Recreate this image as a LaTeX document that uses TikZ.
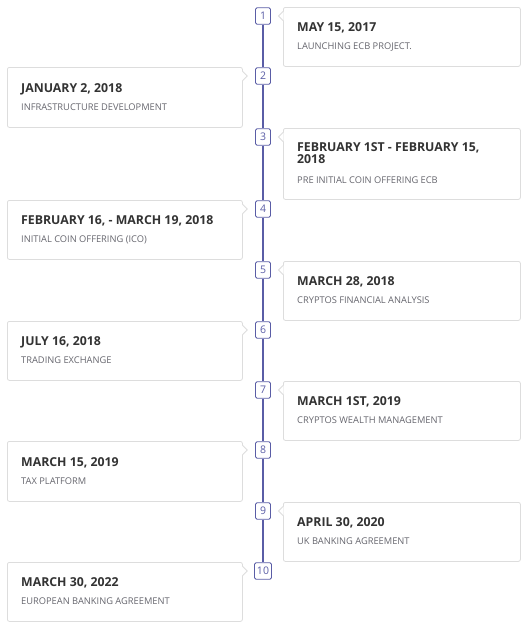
\documentclass[tikz,border=0pt]{standalone}
\usepackage{fontspec}
\setmainfont{Open Sans}
\definecolor{tlblue}{HTML}{5A5DA6}
\definecolor{cardgray}{HTML}{DDDDDD}
\definecolor{titlecol}{HTML}{333333}
\definecolor{subcol}{HTML}{66666E}
\tikzset{
  card/.style={draw=cardgray, fill=white, rounded corners=2pt, line width=0.8pt, inner sep=0pt, anchor=north west, minimum height=#1},
  rcard/.style={card=#1, minimum width=237pt},
  lcard/.style={card=#1, minimum width=235pt},
  numbox/.style={draw=tlblue, fill=white, line width=0.9pt, rounded corners=1.5pt, minimum width=15pt, minimum height=16.5pt, inner xsep=2.5pt, inner ysep=0pt, font=\fontsize{10.5}{11}\selectfont, text=tlblue},
  ttl/.style={anchor=base west, inner sep=0pt, font=\fontsize{12.3}{12}\selectfont\bfseries, text=titlecol, align=left},
  sub/.style={anchor=base west, inner sep=0pt, font=\fontsize{9.3}{10}\selectfont, text=subcol},
  tline/.style={draw=tlblue, line width=1.1pt}
}
\usetikzlibrary{calc}
\newcommand{\rnotch}[1]{% notch on left edge of right card
  \fill[white] ($(#1.north west)+(0.7,4.5)$) -- ++(-5.2,4.5) -- ++(5.2,4.5) -- cycle;
  \draw[cardgray, line width=0.8pt] ($(#1.north west)+(0,4.5)$) -- ++(-4.5,4.5) -- ++(4.5,4.5);}
\newcommand{\lnotch}[1]{% notch on right edge of left card
  \fill[white] ($(#1.north east)+(-0.7,4.5)$) -- ++(5.2,4.5) -- ++(-5.2,4.5) -- cycle;
  \draw[cardgray, line width=0.8pt] ($(#1.north east)+(0,4.5)$) -- ++(4.5,4.5) -- ++(-4.5,4.5);}
\begin{document}
\begin{tikzpicture}[x=1pt,y=-1pt]
\useasboundingbox (0,0) rectangle (528,632);
% cards
\node[rcard=59pt] (c1) at (283,7) {};
\node[lcard=60pt] (c2) at (7,67) {};
\node[rcard=71pt] (c3) at (283,128) {};
\node[lcard=59pt] (c4) at (7,200) {};
\node[rcard=59pt] (c5) at (283,261) {};
\node[lcard=59pt] (c6) at (7,321) {};
\node[rcard=59pt] (c7) at (283,381) {};
\node[lcard=60pt] (c8) at (7,441) {};
\node[rcard=59pt] (c9) at (283,502) {};
\node[lcard=59pt] (c10) at (7,562) {};
\rnotch{c1}\lnotch{c2}\rnotch{c3}\lnotch{c4}\rnotch{c5}
\lnotch{c6}\rnotch{c7}\lnotch{c8}\rnotch{c9}\lnotch{c10}
% texts
\node[ttl] (t1) at (297,31) {MAY 15, 2017};
\node[sub] (s1) at (297,49.5) {LAUNCHING ECB PROJECT.};
\node[ttl] (t2) at (21,92) {JANUARY 2, 2018};
\node[sub] (s2) at (21,110.5) {INFRASTRUCTURE DEVELOPMENT};
\node[ttl] (t3) at (297,151.7) {FEBRUARY 1ST - FEBRUARY 15,};
\node[ttl] (t3b) at (297,163.5) {2018};
\node[sub] (s3) at (297,183.3) {PRE INITIAL COIN OFFERING ECB};
\node[ttl] (t4) at (21,224) {FEBRUARY 16, - MARCH 19, 2018};
\node[sub] (s4) at (21,242.5) {INITIAL COIN OFFERING (ICO)};
\node[ttl] (t5) at (297,285) {MARCH 28, 2018};
\node[sub] (s5) at (297,303.5) {CRYPTOS FINANCIAL ANALYSIS};
\node[ttl] (t6) at (21,345) {JULY 16, 2018};
\node[sub] (s6) at (21,363.5) {TRADING EXCHANGE};
\node[ttl] (t7) at (297,405) {MARCH 1ST, 2019};
\node[sub] (s7) at (297,423.5) {CRYPTOS WEALTH MANAGEMENT};
\node[ttl] (t8) at (21,466) {MARCH 15, 2019};
\node[sub] (s8) at (21,484.5) {TAX PLATFORM};
\node[ttl] (t9) at (297,526) {APRIL 30, 2020};
\node[sub] (s9) at (297,544.5) {UK BANKING AGREEMENT};
\node[ttl] (t10) at (21,586) {MARCH 30, 2022};
\node[sub] (s10) at (21,604.5) {EUROPEAN BANKING AGREEMENT};
% number boxes
\node[numbox] (n1) at (263,16) {1};
\node[numbox] (n2) at (263,76) {2};
\node[numbox] (n3) at (263,137) {3};
\node[numbox] (n4) at (263,209) {4};
\node[numbox] (n5) at (263,270) {5};
\node[numbox] (n6) at (263,330) {6};
\node[numbox] (n7) at (263,390) {7};
\node[numbox] (n8) at (263,450) {8};
\node[numbox] (n9) at (263,511) {9};
\node[numbox] (n10) at (263,571) {10};
% timeline
\foreach \a/\b in {n1/n2,n2/n3,n3/n4,n4/n5,n5/n6,n6/n7,n7/n8,n8/n9,n9/n10}
  \draw[tline] (\a) -- (\b);
\end{tikzpicture}
\end{document}
